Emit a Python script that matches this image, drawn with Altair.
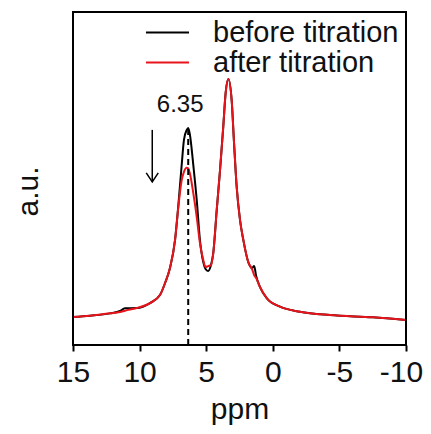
import altair as alt
import pandas as pd

ppm = [15.0, 13.72, 12.22, 11.47, 11.10, 10.22, 9.22, 8.47, 8.09, 7.72, 7.34, 7.09,
       6.84, 6.67, 6.46, 6.35, 6.22, 5.97, 5.71, 5.47, 5.22, 5.05, 4.86, 4.64, 4.47,
       4.21, 3.96, 3.72, 3.54, 3.34, 3.09, 2.91, 2.71, 2.46, 2.21, 1.84, 1.56, 1.40,
       1.25, 0.96, 0.46, -0.54, -2.04, -4.29, -7.52, -10.0]
before = [0.084, 0.088, 0.095, 0.102, 0.110, 0.111, 0.126, 0.150, 0.186, 0.231, 0.315, 0.420,
          0.541, 0.616, 0.646, 0.652, 0.631, 0.541, 0.435, 0.315, 0.249, 0.228, 0.222, 0.240, 0.276,
          0.405, 0.526, 0.655, 0.757, 0.799, 0.736, 0.607, 0.474, 0.375, 0.315, 0.249, 0.231, 0.237,
          0.207, 0.174, 0.141, 0.115, 0.100, 0.090, 0.083, 0.075]
after = [0.084, 0.088, 0.095, 0.099, 0.103, 0.111, 0.126, 0.150, 0.186, 0.231, 0.315, 0.415,
         0.495, 0.520, 0.532, 0.530, 0.514, 0.456, 0.384, 0.306, 0.255, 0.234, 0.237, 0.240, 0.276,
         0.405, 0.526, 0.655, 0.757, 0.799, 0.736, 0.607, 0.474, 0.375, 0.315, 0.249, 0.228, 0.210,
         0.201, 0.174, 0.141, 0.115, 0.100, 0.090, 0.083, 0.075]
series = ["before titration", "after titration"]
colors = ["#000000", "#e8141b"]
x_ticks = [15, 12.5, 10, 7.5, 5, 2.5, 0, -2.5, -5, -7.5, -10]
x_domain = [15, -10]
y_domain = [0, 1]

peak_ppm = 6.35
peak_label = "6.35"
arrow_ppm = 9.05
arrow_top = 0.646
arrow_bottom = 0.49
label_y = 0.70

FONT = "Liberation Sans"

df = pd.concat([
    pd.DataFrame({"ppm": ppm, "au": before, "series": series[0], "k": 0}),
    pd.DataFrame({"ppm": ppm, "au": after, "series": series[1], "k": 1}),
])

xscale = alt.Scale(domain=x_domain, nice=False, zero=False)
yscale = alt.Scale(domain=y_domain, nice=False, zero=False)

lines = alt.Chart(df).mark_line(strokeWidth=2, interpolate="monotone").encode(
    x=alt.X("ppm:Q", scale=xscale, title="ppm",
            axis=alt.Axis(values=x_ticks,
                          labelExpr="datum.value % 5 == 0 ? toString(datum.value) : ''",
                          labelFont=FONT, labelFontSize=30, labelColor="#111",
                          labelOffset=alt.ConditionalAxisNumber(
                              condition={"test": "datum.value == -10", "value": -5}, value=0),
                          titleFont=FONT, titleFontSize=30, titleFontWeight="normal",
                          titleColor="#111", titlePadding=7,
                          tickSize=6, tickWidth=2, tickColor="#000", labelPadding=6,
                          domain=False, grid=False, labelFlush=False)),
    y=alt.Y("au:Q", scale=yscale, title="a.u.",
            axis=alt.Axis(labels=False, ticks=False, grid=False, domain=False,
                          titleFont=FONT, titleFontSize=30, titleFontWeight="normal",
                          titleColor="#111", titlePadding=30, titleY=179)),
    color=alt.Color("series:N", scale=alt.Scale(domain=series, range=colors),
                    legend=alt.Legend(title=None, orient="none", legendX=80, legendY=6,
                                      symbolType="M -4 0 L 4 0", symbolSize=116,
                                      symbolStrokeWidth=2, symbolFillColor="transparent",
                                      labelFont=FONT,
                                      labelFontSize=29, labelColor="#111", labelLimit=400,
                                      labelOffset=31, rowPadding=-2)),
    detail="series:N",
    order=alt.Order("k:Q"),
)

frame_df = pd.DataFrame({"x0": [x_domain[0]], "x1": [x_domain[1]],
                         "y0": [y_domain[0]], "y1": [y_domain[1]]})
frame = alt.Chart(frame_df).mark_rect(
    fillOpacity=0, stroke="#000", strokeWidth=2).encode(
    x=alt.X("x0:Q", scale=xscale), x2="x1:Q",
    y=alt.Y("y0:Q", scale=yscale), y2="y1:Q")

peak_height = before[ppm.index(peak_ppm)]

dash = alt.Chart(pd.DataFrame({"x": [peak_ppm], "y": [0.0], "y2": [peak_height]})).mark_rule(
    strokeDash=[6, 4], strokeWidth=2, color="#000").encode(
    x=alt.X("x:Q", scale=xscale), y=alt.Y("y:Q", scale=yscale), y2="y2:Q")

label = alt.Chart(pd.DataFrame({"x": [peak_ppm], "y": [label_y], "t": [peak_label]})).mark_text(
    font=FONT, fontSize=24, color="#111", baseline="alphabetic", align="center", dx=-8).encode(
    x=alt.X("x:Q", scale=xscale), y=alt.Y("y:Q", scale=yscale), text="t:N")

arrow_shaft = alt.Chart(pd.DataFrame({"x": [arrow_ppm], "y": [arrow_top], "y2": [arrow_bottom]})).mark_rule(
    strokeWidth=1.5, color="#000").encode(
    x=alt.X("x:Q", scale=xscale), y=alt.Y("y:Q", scale=yscale), y2="y2:Q")

arrow_head = alt.Chart(pd.DataFrame({"x": [arrow_ppm], "y": [arrow_bottom]})).mark_point(
    shape="M -1 -1.5 L 0 0 L 1 -1.5", filled=False, strokeWidth=1.5, color="#000", size=144,
    opacity=1).encode(
    x=alt.X("x:Q", scale=xscale), y=alt.Y("y:Q", scale=yscale))

chart = alt.layer(lines, dash, label, arrow_shaft, arrow_head, frame).properties(
    width=333, height=333,
    background="white",
    autosize=alt.AutoSizeParams(type="none"),
    padding={"left": 65, "top": 4, "right": 17, "bottom": 80},
).configure_view(stroke=None)

chart.save("out.html", embed_options={"renderer": "svg", "actions": False})
